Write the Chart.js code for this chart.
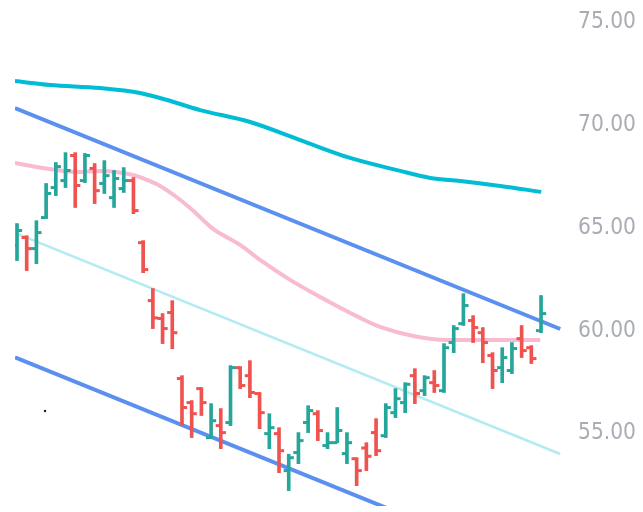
<!DOCTYPE html>
<html>
<head>
<meta charset="utf-8">
<script src="https://cdn.jsdelivr.net/npm/chart.js@4.4.1/dist/chart.umd.min.js"></script>
<style>
  html, body { margin: 0; padding: 0; background: #ffffff; overflow: hidden; }
  #wrap { width: 643px; height: 512px; position: relative; }
</style>
</head>
<body>
<div id="wrap"><canvas id="c"></canvas></div>
<script>
// ---- OHLC data (one entry per daily bar) ----
const opens  = [64.15,64.54,64.00,65.51,66.97,67.31,68.53,67.31,67.90,67.17,66.48,66.92,67.31,64.29,61.47,60.60,60.89,57.68,56.51,57.19,54.81,55.39,55.54,58.21,57.82,56.95,55.00,55.00,53.20,54.08,55.54,55.97,54.42,54.56,54.03,53.78,54.30,55.05,54.90,56.02,56.51,57.82,57.09,57.48,57.09,59.43,60.35,60.50,59.91,58.80,58.21,58.07,59.62,59.18,60.01];
const highs  = [65.22,64.63,65.36,67.17,68.19,68.67,68.67,68.63,68.14,68.28,67.80,67.94,67.46,64.39,62.06,60.84,61.47,57.82,56.61,57.24,56.46,56.22,58.31,58.26,58.55,57.00,55.97,55.29,54.00,55.05,56.36,56.12,55.05,56.27,55.05,53.83,54.56,55.73,56.46,57.19,57.48,58.16,57.82,58.07,59.38,60.26,61.81,60.74,60.16,58.94,59.18,59.43,60.26,59.28,61.72];
const lows   = [63.42,62.93,63.27,65.46,66.58,66.97,66.00,67.21,66.19,66.68,66.00,66.73,65.70,62.83,60.11,59.38,59.13,55.39,54.81,55.88,54.76,54.27,55.39,57.19,56.75,55.24,54.27,53.10,52.23,53.54,55.05,54.66,54.27,54.56,53.54,52.47,53.20,53.93,54.81,55.78,56.02,56.46,56.85,57.00,57.00,58.94,60.26,59.43,58.45,57.19,57.48,57.92,58.70,58.41,59.91];
const closes = [64.88,64.00,64.78,66.68,67.99,67.80,67.07,68.53,66.82,67.55,67.41,67.31,65.85,62.98,60.63,60.11,59.91,56.27,55.97,56.51,55.63,55.05,58.21,57.34,57.00,56.02,55.29,54.17,53.83,54.66,56.12,55.15,54.56,55.15,54.56,53.20,53.90,54.17,56.27,56.70,57.40,56.95,57.72,57.34,59.18,60.11,61.23,60.16,59.43,58.07,58.70,59.14,59.04,58.65,60.84];

// ---- long moving average (teal), read at bar positions ----
const tealX = [-0.21, 3.40, 8.56, 12.68, 15.46, 18.87, 24.02, 29.18, 34.33, 39.48, 42.58, 45.67, 49.79, 54.02];
const tealY = [72.15, 71.96, 71.81, 71.57, 71.23, 70.74, 70.16, 69.28, 68.41, 67.78, 67.44, 67.29, 67.05, 66.76];

// ---- shorter moving average (pink) ----
const pinkX = [-0.21, 2.68, 6.19, 8.56, 11.96, 13.40, 14.74, 16.29, 17.84, 20.21, 22.99, 25.05, 28.14, 31.24, 35.36, 37.42, 40.82, 44.33, 47.73, 53.92];
const pinkY = [68.17, 67.92, 67.73, 67.78, 67.58, 67.34, 67.05, 66.56, 65.98, 64.96, 64.18, 63.45, 62.48, 61.65, 60.63, 60.19, 59.75, 59.56, 59.56, 59.56];

// ---- regression channel (start / end) ----
const channelX     = [-0.21, 55.98];
const channelUpper = [70.84, 60.09];
const channelMid   = [64.76, 54.01];
const channelLower = [58.71, 47.96];

// ---- stray mark ----
const dotX = [2.89];
const dotY = [56.10];

// ---- axis ----
const yTicks = [55, 60, 65, 70, 75];

const UP = '#26a69a', DOWN = '#ef5350';
const barColor = opens.map((o, i) => closes[i] >= o ? UP : DOWN);
const pts = (xs, ys) => xs.map((x, i) => ({ x: x, y: ys[i] }));

const TICK_OFF = 0.26;
const LABEL_PAD = 16;
const LABEL_TARGET_W = 58;

// pick the narrowest installed sans family and size it so "75.00" is ~58px wide
const LABEL_FONT = (() => {
  const m = document.createElement('canvas').getContext('2d');
  const meas = f => { m.font = f; return m.measureText('75.00').width; };
  const cands = ['Liberation Sans Narrow', 'DejaVu Sans Condensed', 'Roboto Condensed', 'Liberation Sans'];
  for (const c of cands) {
    const a = meas('100px "' + c + '", monospace'), b = meas('100px monospace');
    if (Math.abs(a - b) > 0.5 || c === 'Liberation Sans') {
      const size = Math.min(29, Math.floor(LABEL_TARGET_W / (a / 100) * 10) / 10);
      return { family: '"' + c + '", sans-serif', size: size };
    }
  }
})();

new Chart(document.getElementById('c'), {
  type: 'scatter',
  data: {
    datasets: [
      {
        type: 'bar', order: 0,
        data: highs.map((h, i) => ({ x: i, y: [lows[i], h] })),
        backgroundColor: barColor, borderWidth: 0,
        barThickness: 3, grouped: false
      },
      {
        type: 'scatter', order: 0,
        data: opens.map((o, i) => ({ x: i - TICK_OFF, y: o })),
        pointStyle: 'line', radius: 2.6, borderWidth: 3,
        borderColor: barColor, backgroundColor: barColor
      },
      {
        type: 'scatter', order: 0,
        data: closes.map((c, i) => ({ x: i + TICK_OFF, y: c })),
        pointStyle: 'line', radius: 2.6, borderWidth: 3,
        borderColor: barColor, backgroundColor: barColor
      },
      {
        type: 'scatter', order: 0,
        data: pts(dotX, dotY),
        pointStyle: 'circle', radius: 1.2, borderWidth: 0,
        backgroundColor: '#222'
      },
      {
        type: 'line', order: 2, data: pts(pinkX, pinkY),
        borderColor: '#f8bbd0', borderWidth: 4, pointRadius: 0,
        cubicInterpolationMode: 'monotone', fill: false
      },
      {
        type: 'line', order: 3, data: pts(channelX, channelMid),
        borderColor: '#b2ebf2', borderWidth: 2.5, pointRadius: 0, fill: false
      },
      {
        type: 'line', order: 3, data: pts(channelX, channelUpper),
        borderColor: '#5b8ff0', borderWidth: 4, pointRadius: 0, fill: false
      },
      {
        type: 'line', order: 3, data: pts(channelX, channelLower),
        borderColor: '#5b8ff0', borderWidth: 4, pointRadius: 0, fill: false
      },
      {
        type: 'line', order: 4, data: pts(tealX, tealY),
        borderColor: '#00bcd4', borderWidth: 4, pointRadius: 0,
        cubicInterpolationMode: 'monotone', fill: false
      }
    ]
  },
  options: {
    responsive: true,
    maintainAspectRatio: false,
    animation: false,
    events: [],
    layout: { autoPadding: false, padding: { left: 15, right: 0, top: 0, bottom: 6 } },
    plugins: { legend: { display: false }, tooltip: { enabled: false } },
    scales: {
      x: {
        type: 'linear', display: false, offset: false,
        min: -0.206, max: 56.16,
        grid: { offset: false }
      },
      y: {
        type: 'linear', position: 'right', offset: false,
        min: 51.48, max: 76.094,
        afterFit: s => {
          s.width = 81;
          s.paddingTop = 0; s.paddingBottom = 0; s.paddingLeft = 0; s.paddingRight = 0;
        },
        afterBuildTicks: s => { s.ticks = yTicks.map(v => ({ value: v })); },
        grid: { display: false, drawTicks: false },
        border: { display: false },
        ticks: {
          padding: LABEL_PAD,
          color: '#a9acb5',
          font: LABEL_FONT,
          callback: v => Number(v).toFixed(2)
        }
      }
    }
  }
});
</script>
</body>
</html>
